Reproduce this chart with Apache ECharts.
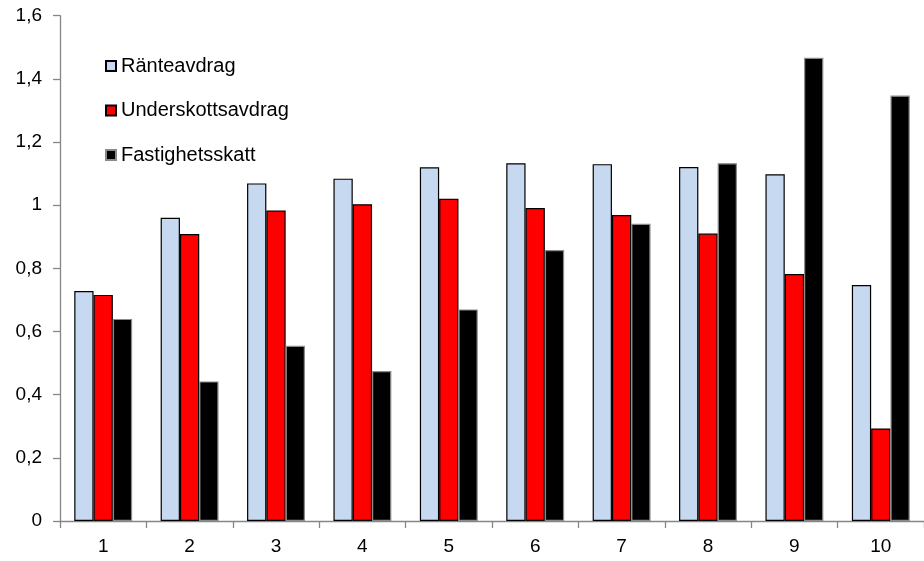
<!DOCTYPE html>
<html>
<head>
<meta charset="utf-8">
<script src="https://cdn.jsdelivr.net/npm/echarts@6/dist/echarts.min.js"></script>
<style>
  html, body { margin: 0; padding: 0; background: #ffffff; }
  #chart { width: 924px; height: 561px; }
</style>
</head>
<body>
<div id="chart"></div>
<script>
// Deciles 1-10
const categories = ['1', '2', '3', '4', '5', '6', '7', '8', '9', '10'];

const seriesNames = ['Ränteavdrag', 'Underskottsavdrag', 'Fastighetsskatt'];

const ranteavdrag       = [0.728, 0.960, 1.069, 1.084, 1.120, 1.133, 1.130, 1.121, 1.098, 0.747];
const underskottsavdrag = [0.716, 0.909, 0.983, 1.003, 1.020, 0.991, 0.969, 0.910, 0.782, 0.293];
const fastighetsskatt   = [0.640, 0.442, 0.555, 0.475, 0.670, 0.858, 0.941, 1.133, 1.467, 1.347];

const yTickValues = [0, 0.2, 0.4, 0.6, 0.8, 1, 1.2, 1.4, 1.6];
const yTickLabels = ['0', '0,2', '0,4', '0,6', '0,8', '1', '1,2', '1,4', '1,6'];

const FONT = '"Liberation Sans", Arial, sans-serif';

const chart = echarts.init(document.getElementById('chart'), null, { renderer: 'canvas' });

function barSeries(name, data, color, border) {
  return {
    name: name,
    type: 'bar',
    data: data,
    barGap: '0%',
    barCategoryGap: '33%',
    itemStyle: { color: color, borderColor: border, borderWidth: 1.2 },
    emphasis: { disabled: true }
  };
}

chart.setOption({
  animation: false,
  backgroundColor: '#ffffff',
  textStyle: { fontFamily: FONT },
  grid: { left: 60, top: 15.7, right: -8, bottom: 40, containLabel: false },
  legend: {
    orient: 'vertical',
    left: 105,
    top: 56,
    padding: 0,
    itemWidth: 10,
    itemHeight: 10,
    itemGap: 24.5,
    itemTextGap: 6,
    icon: 'rect',
    data: seriesNames,
    textStyle: { fontFamily: FONT, fontSize: 20, color: '#000000', lineHeight: 20 }
  },
  xAxis: {
    type: 'category',
    data: categories,
    axisLine: { lineStyle: { color: '#868686', width: 1.3 } },
    axisTick: { show: true, length: 7, lineStyle: { color: '#868686', width: 1.3 } },
    axisLabel: { fontFamily: FONT, fontSize: 19, color: '#000000', margin: 16 },
    splitLine: { show: false }
  },
  yAxis: {
    type: 'value',
    min: 0,
    max: 1.6,
    interval: 0.2,
    axisLine: { show: true, lineStyle: { color: '#868686', width: 1.3 } },
    axisTick: { show: true, length: 7, lineStyle: { color: '#868686', width: 1.3 } },
    axisLabel: {
      fontFamily: FONT, fontSize: 19, color: '#000000', margin: 18,
      formatter: function (v) {
        const i = yTickValues.findIndex(t => Math.abs(t - v) < 1e-6);
        return i >= 0 ? yTickLabels[i] : '';
      }
    },
    splitLine: { show: false }
  },
  series: [
    barSeries(seriesNames[0], ranteavdrag, '#C6D9F1', '#000000'),
    barSeries(seriesNames[1], underskottsavdrag, '#FF0000', '#000000'),
    barSeries(seriesNames[2], fastighetsskatt, '#000000', '#8a8a8a')
  ]
});
</script>
</body>
</html>
